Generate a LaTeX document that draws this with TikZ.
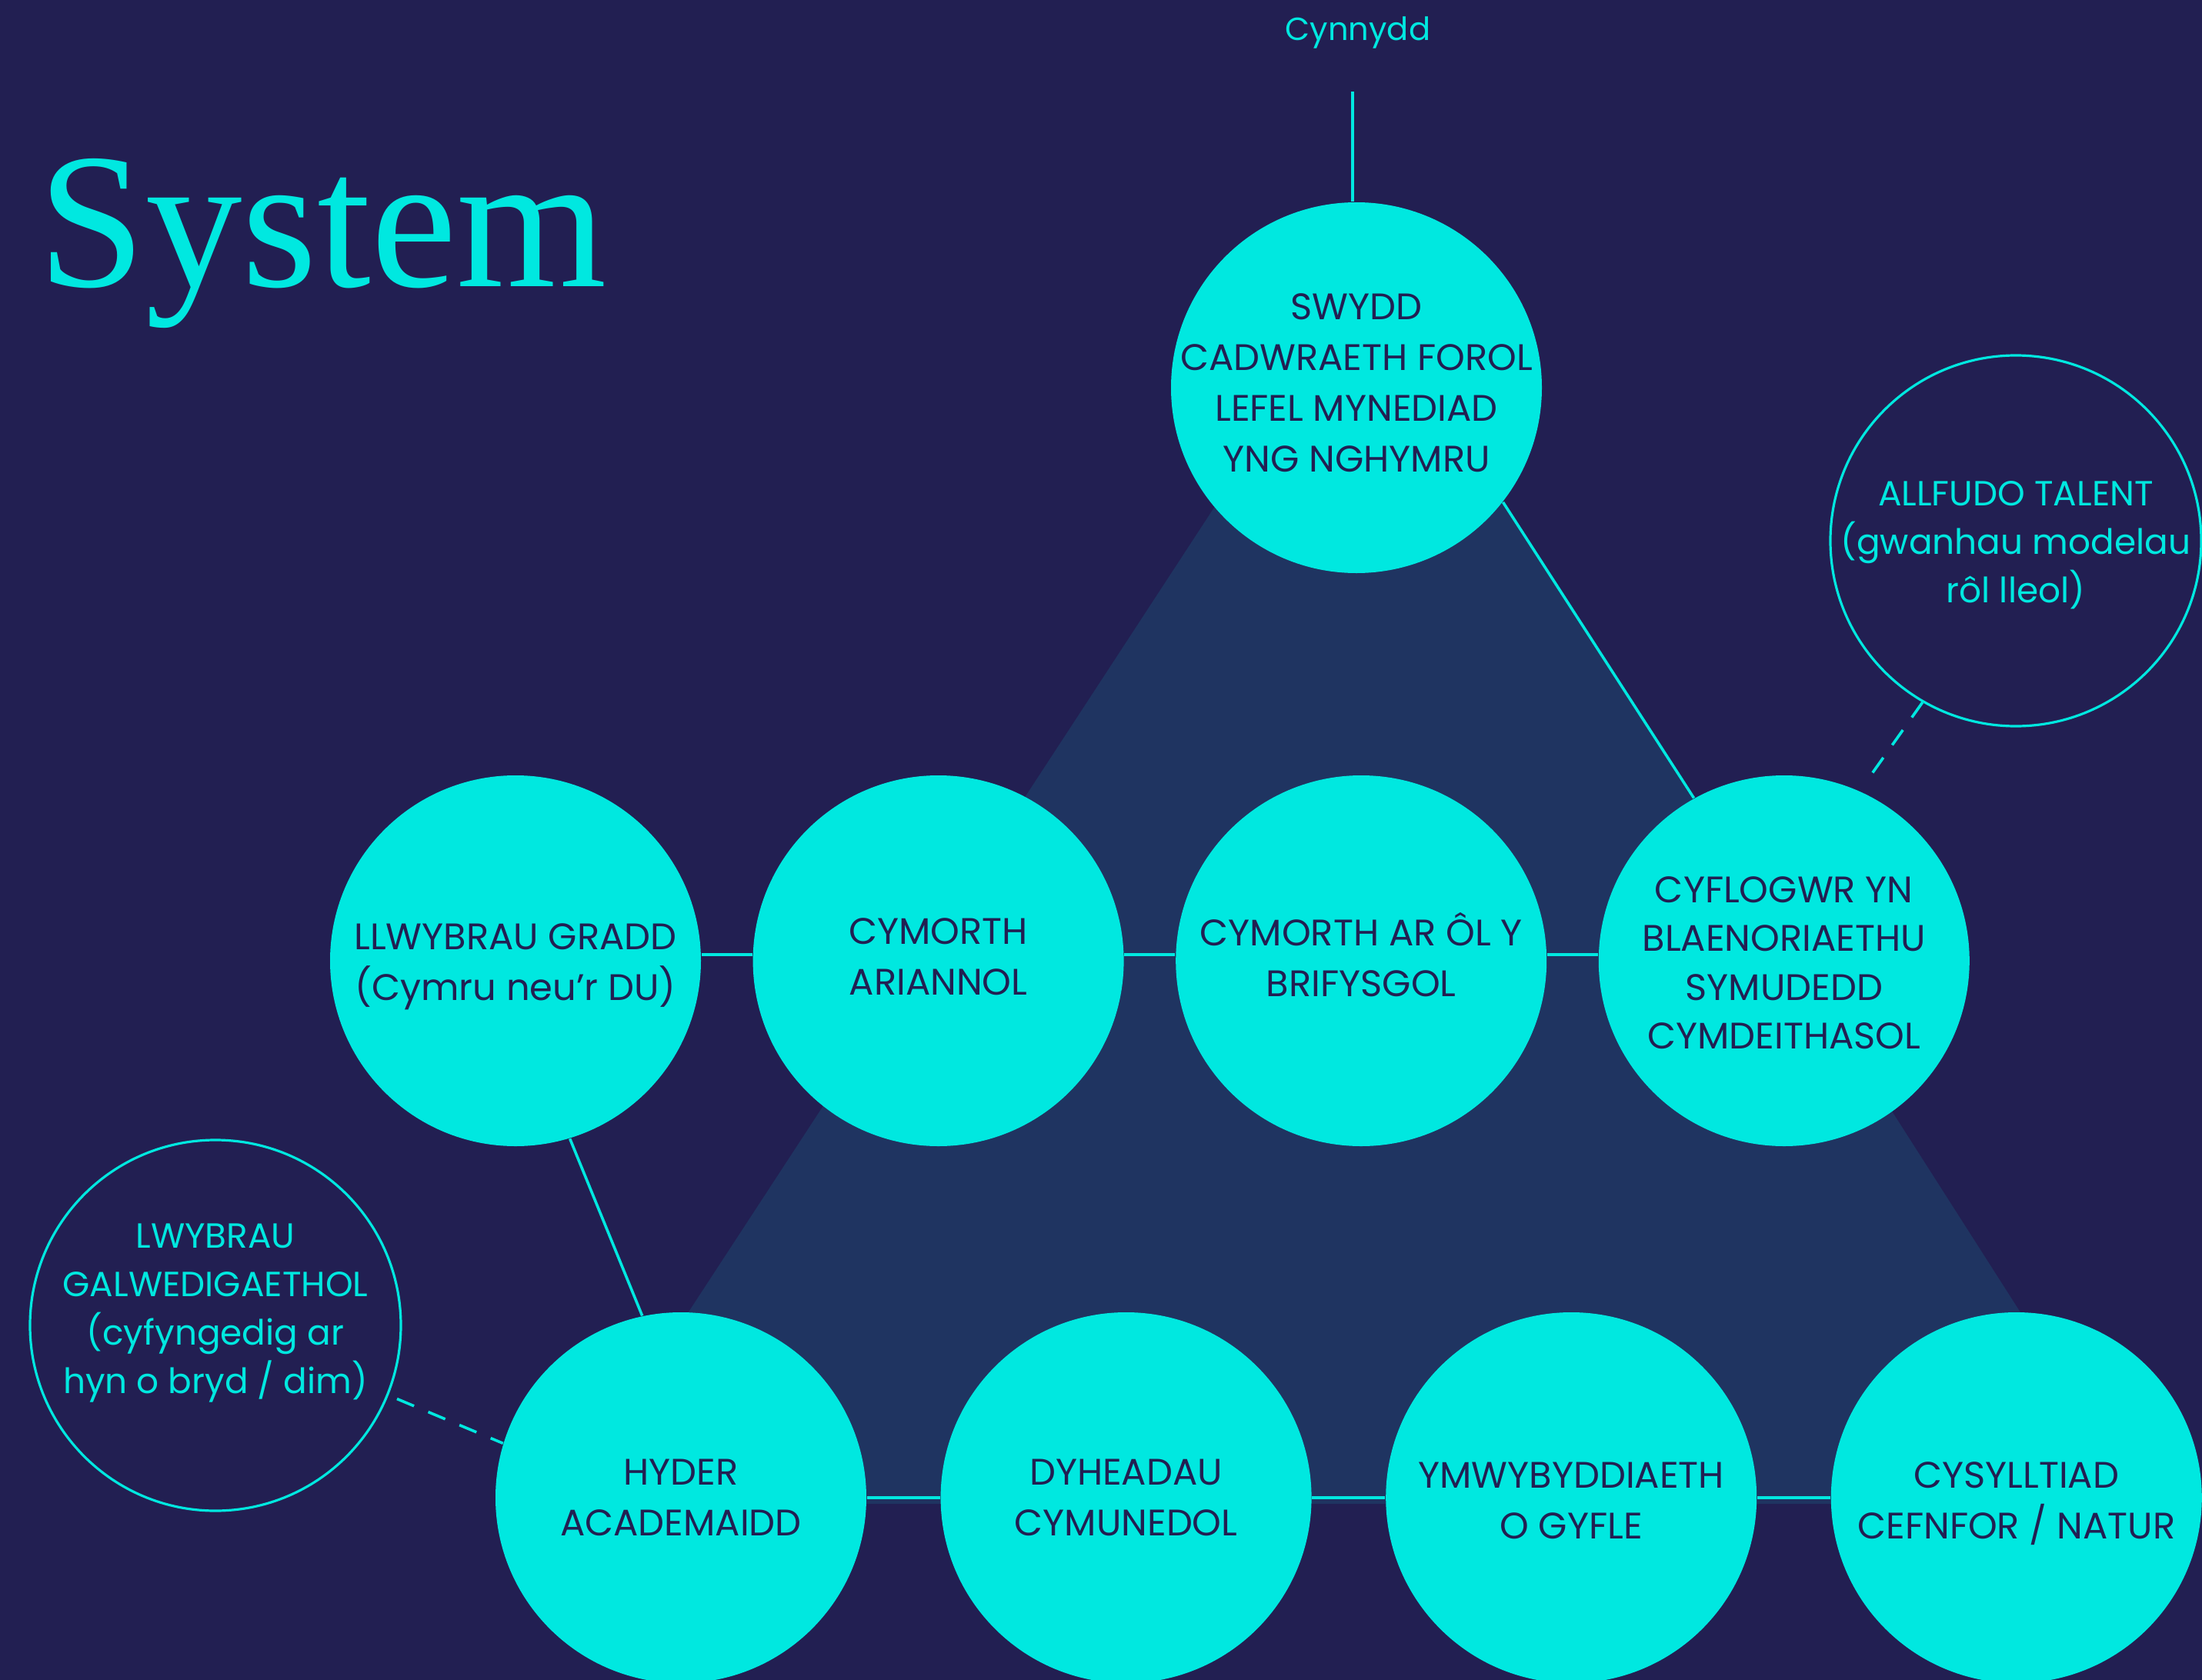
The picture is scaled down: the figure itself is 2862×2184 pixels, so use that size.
\documentclass[tikz,border=0pt]{standalone}
\usepackage{fontspec}
\setmainfont{Poppins}
\newfontfamily\titlefont{Liberation Serif}
\usetikzlibrary{positioning}

\definecolor{navy}{HTML}{221F52}
\definecolor{wedge}{HTML}{1F3461}
\definecolor{aqua}{HTML}{00E8E0}

\begin{document}
\begin{tikzpicture}[x=0.25pt, y=-0.25pt]
	% Define styles
	\tikzset{
		bubble/.style={circle, fill=aqua, minimum size=120.5pt, inner sep=0pt},
		ring/.style={circle, draw=aqua, line width=0.8pt, minimum size=120.5pt, inner sep=0pt},
		bubtext/.style={text=navy, align=center, font=\fontsize{12}{16.5}\selectfont},
		ringtext/.style={text=aqua, align=center, font=\fontsize{11.35}{15.75}\selectfont},
		line/.style={draw=aqua, line width=0.9pt},
		dashline/.style={line, dash pattern=on 6pt off 5pt}
	}
	
	% Background and shaded triangle
	\useasboundingbox (0,0) rectangle (2862,2184);
	\fill[navy] (0,0) rectangle (2862,2184);
	\fill[wedge] (1770,366) -- (732,1955) -- (2785,1955) -- cycle;
	
	% Title
	\node[anchor=base west, inner sep=0pt, text=aqua, font=\titlefont\fontsize{62.75}{70}\selectfont] (title) at (49,372) {System};
	\node[anchor=base, inner sep=0pt, text=aqua, font=\fontsize{10.4}{13}\selectfont] (cyn) at (1765,52) {Cynnydd};
	\coordinate (cyntop) at (1758,119);
	
	% Nodes
	\node[bubble, label={[bubtext, yshift=1.6pt]center:SWYDD\\CADWRAETH FOROL\\LEFEL MYNEDIAD\\YNG NGHYMRU}] (top) at (1763,504) {};
	
	\node[bubble, label={[bubtext, yshift=-2pt]center:LLWYBRAU GRADD\\(Cymru neu’r DU)}] (grad) at (670,1249) {};
	\node[bubble, right=16.5pt of grad, label={[bubtext, yshift=1.4pt]center:CYMORTH\\ARIANNOL}] (ariannol) {};
	\node[bubble, right=16.5pt of ariannol, label={[bubtext, yshift=2pt]center:CYMORTH AR ÔL Y\\BRIFYSGOL}] (brif) {};
	\node[bubble, right=16.5pt of brif, label={[bubtext, yshift=-0.7pt, font=\fontsize{12}{15.9}\selectfont]center:CYFLOGWR YN\\BLAENORIAETHU\\SYMUDEDD\\CYMDEITHASOL}] (cyf) {};
	
	\node[bubble, label={[bubtext]center:HYDER\\ACADEMAIDD}] (hyder) at (885,1947) {};
	\node[bubble, right=23.75pt of hyder, label={[bubtext]center:DYHEADAU\\CYMUNEDOL}] (dyhead) {};
	\node[bubble, right=23.75pt of dyhead, label={[bubtext, yshift=-0.9pt]center:YMWYBYDDIAETH\\O GYFLE}] (ymwyb) {};
	\node[bubble, right=23.75pt of ymwyb, label={[bubtext, yshift=-1.8pt]center:CYSYLLTIAD\\CEFNFOR / NATUR}] (cysyll) {};
	
	\node[ring, label={[ringtext, yshift=-1.4pt]center:ALLFUDO TALENT\\(gwanhau modelau\\rôl lleol)}] (allf) at (2620,703) {};
	\node[ring, label={[ringtext, yshift=3.9pt]center:LWYBRAU\\GALWEDIGAETHOL\\(cyfyngedig ar\\hyn o bryd / dim)}] (lwyb) at (280,1723) {};
	
	% Connectors
	\draw[line] (cyntop) -- (cyntop |- top.north);
	\draw[line] (top.-38) -- (cyf.119);
	
	\draw[line] ([yshift=2pt]grad.east) -- ([yshift=2pt]ariannol.west);
	\draw[line] ([yshift=2pt]ariannol.east) -- ([yshift=2pt]brif.west);
	\draw[line] ([yshift=2pt]brif.east) -- ([yshift=2pt]cyf.west);
	\draw[line] (grad.-73.5) -- (hyder.102);
	
	\draw[line] (hyder) -- (dyhead);
	\draw[line] (dyhead) -- (ymwyb);
	\draw[line] (ymwyb) -- (cysyll);
	
	\draw[dashline, shorten >=5pt] (allf.-120) -- (cyf.66);
	\draw[dashline, shorten <=3pt] (lwyb.-22) -- (hyder.163);
	
\end{tikzpicture}
\end{document}
